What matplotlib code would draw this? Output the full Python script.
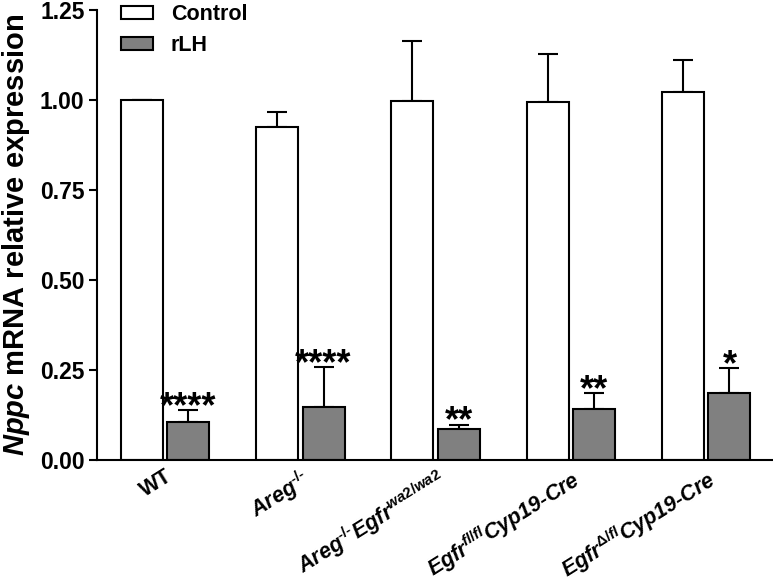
import numpy as np
import matplotlib
matplotlib.use('Agg')
import matplotlib.pyplot as plt

# data
groups = ['WT', 'Areg$^{\u2010/\u2010}$', 'Areg$^{\u2010/\u2010}$Egfr$^{wa2/wa2}$',
          'Egfr$^{fl/fl}$Cyp19-Cre', 'Egfr$^{\\Delta/fl}$Cyp19-Cre']
control_mean = [1.00, 0.925, 0.996, 0.995, 1.022]
control_err = [0.0, 0.042, 0.168, 0.133, 0.089]
rlh_mean = [0.105, 0.147, 0.086, 0.142, 0.186]
rlh_err = [0.034, 0.111, 0.012, 0.044, 0.070]
stars = ['****', '****', '**', '**', '*']

plt.rcParams['font.family'] = 'Liberation Sans'
plt.rcParams['font.weight'] = 'bold'
plt.rcParams['mathtext.fontset'] = 'custom'
plt.rcParams['mathtext.rm'] = 'Liberation Sans:bold'
plt.rcParams['mathtext.it'] = 'Liberation Sans:italic:bold'
plt.rcParams['mathtext.bf'] = 'Liberation Sans:bold'

fig = plt.figure(figsize=(7.73, 5.86), dpi=100)
ax = fig.add_axes([0.1255, 0.215, 0.8745, 0.768])

x = np.arange(len(groups))
w = 0.31
off = 0.172
ekw = dict(ecolor='black', elinewidth=1.5, capsize=7.5, capthick=1.5)
ax.bar(x - off, control_mean, w, color='white', edgecolor='black', linewidth=1.5,
       label='Control', zorder=2)
ax.errorbar(x - off, control_mean, yerr=[np.zeros(5), control_err], fmt='none', zorder=1, **ekw)
ax.bar(x + off, rlh_mean, w, color='#808080', edgecolor='black', linewidth=1.5,
       label='rLH', zorder=2)
ax.errorbar(x + off, rlh_mean, yerr=[np.zeros(5), rlh_err], fmt='none', zorder=1, **ekw)

# significance stars above rLH bars
for i in range(len(groups)):
    ax.annotate(stars[i], (x[i] + off, rlh_mean[i] + rlh_err[i]), xytext=(0, -5),
                textcoords='offset points', ha='center', va='baseline',
                fontsize=26, fontweight='bold')

ax.set_xlim(-0.503, 4.494)
ax.set_ylim(0, 1.25)
ax.set_yticks([0, 0.25, 0.5, 0.75, 1.0, 1.25])
ax.set_yticklabels(['0.00', '0.25', '0.50', '0.75', '1.00', '1.25'])
ax.tick_params(axis='y', labelsize=16.5, width=1.5, length=6, direction='out', pad=3)
ax.set_xticks(x)
ax.set_xticklabels(groups, rotation=32, ha='right', rotation_mode='anchor', fontsize=15.5)
for j, lab in enumerate(ax.get_xticklabels()):
    if j > 0:
        lab.set_fontstyle('italic')
ax.tick_params(axis='x', length=0, pad=4)
ax.spines['top'].set_visible(False)
ax.spines['right'].set_visible(False)
ax.spines['left'].set_linewidth(1.5)
ax.spines['bottom'].set_linewidth(1.5)
ax.set_ylabel(r'$Nppc$ mRNA relative expression', fontsize=21, fontweight='bold', labelpad=6)

ax.legend(loc='upper left', bbox_to_anchor=(121 / 773, 1 - 4 / 586), bbox_transform=fig.transFigure,
          frameon=False, fontsize=15.5, borderpad=0, borderaxespad=0,
          handlelength=1.47, handleheight=0.55, labelspacing=0.45, handletextpad=0.85)

fig.savefig('out.png', dpi=100)
